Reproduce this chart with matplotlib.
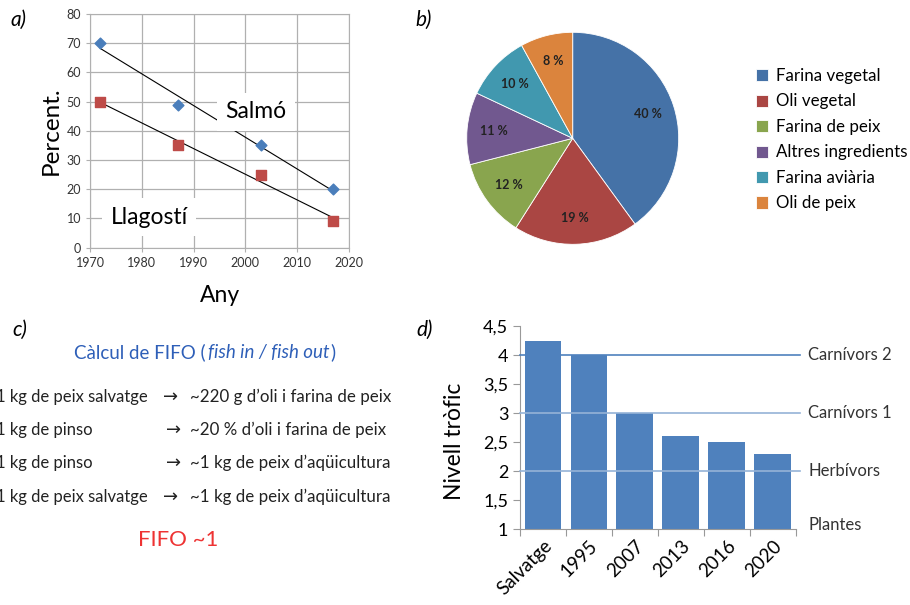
import numpy as np
import matplotlib
matplotlib.use('Agg')
import matplotlib.pyplot as plt
from matplotlib.offsetbox import TextArea, HPacker, AnnotationBbox

plt.rcParams['font.family'] = ['Lato', 'DejaVu Sans']

W, H = 910, 605

# panel a
years = [1972, 1987, 2003, 2017]
salmo = [70, 49, 35, 20]
llagosti = [50, 35, 25, 9]

# panel b
pie_labels = ['Farina vegetal', 'Oli vegetal', 'Farina de peix',
              'Altres ingredients', 'Farina aviària', 'Oli de peix']
pie_values = [40, 19, 12, 11, 10, 8]
pie_colors = ['#4572a7', '#aa4643', '#89a54e', '#71588f', '#4198af', '#db843d']

# panel c
fifo_left = ['1 kg de peix salvatge', '1 kg de pinso', '1 kg de pinso', '1 kg de peix salvatge']
fifo_right = ['~220 g d’oli i farina de peix', '~20 % d’oli i farina de peix',
              '~1 kg de peix d’aqüicultura', '~1 kg de peix d’aqüicultura']

# panel d
cats = ['Salvatge', '1995', '2007', '2013', '2016', '2020']
nivell = [4.25, 4.0, 3.0, 2.6, 2.5, 2.3]
levels = [4, 3, 2, 1]
level_names = ['Carnívors 2', 'Carnívors 1', 'Herbívors', 'Plantes']


def box(x0, y0, x1, y1):
    # pixel box (top-left origin) -> figure fraction rect
    return [x0 / W, 1 - y1 / H, (x1 - x0) / W, (y1 - y0) / H]


def fx(x, y):
    return x / W, 1 - y / H


fig = plt.figure(figsize=(W / 100, H / 100), dpi=100)

# ---- a) ----
ax = fig.add_axes(box(90, 14, 349, 247.7))
ax.scatter(years, salmo, marker='D', s=30, color='#4a7ebb', zorder=3)
ax.scatter(years, llagosti, marker='s', s=55, color='#be4b48', zorder=3)
for ys in (salmo, llagosti):
    k, b = np.polyfit(years, ys, 1)
    xx = np.array([years[0], years[-1]])
    ax.plot(xx, k * xx + b, color='black', lw=0.8, zorder=2)
ax.set_xlim(1970, 2020)
ax.set_ylim(0, 80)
ax.set_xticks(range(1970, 2021, 10))
ax.set_yticks(range(0, 81, 10))
ax.grid(True, color='#b0b0b0', lw=0.9)
ax.set_axisbelow(True)
for s in ax.spines.values():
    s.set_color('#b0b0b0')
ax.tick_params(labelsize=9, length=3, color='#b0b0b0', labelcolor='#333333')
ax.set_ylabel('Percent.', fontsize=17.5, labelpad=3)
ax.set_xlabel('Any', fontsize=16.5, labelpad=12)
ax.text(2002, 46.5, 'Salmó', fontsize=16.5, ha='center', va='center', zorder=4,
        bbox=dict(facecolor='white', edgecolor='none', pad=6))
ax.text(1981.4, 10.5, 'Llagostí', fontsize=16.5, ha='center', va='center', zorder=4,
        bbox=dict(facecolor='white', edgecolor='none', pad=6))
fig.text(*fx(10, 20), 'a)', fontsize=15, style='italic', va='center')

# ---- b) ----
axp = fig.add_axes(box(466.7, 32.3, 678.7, 244.3))
wedges, texts, autotexts = axp.pie(
    pie_values, colors=pie_colors, startangle=90, counterclock=False,
    autopct=lambda p: '%d %%' % round(p), pctdistance=0.75,
    wedgeprops=dict(edgecolor='white', linewidth=0.6),
    textprops=dict(fontsize=9, fontweight='bold', color='#222222'))
axp.set_xlim(-1, 1)
axp.set_ylim(-1, 1)
for w in wedges:
    w.set_clip_on(False)
fig.legend(wedges, pie_labels, loc='upper left', bbox_to_anchor=fx(756, 68),
           frameon=False, fontsize=12.2, handlelength=0.72, handleheight=0.72,
           handletextpad=0.45, labelspacing=0.56, borderaxespad=0, borderpad=0)
fig.text(*fx(415, 20), 'b)', fontsize=15, style='italic', va='center')

# ---- c) ----
fig.text(*fx(12, 330), 'c)', fontsize=15, style='italic', va='center')
tp = dict(fontsize=13.5, color='#2e5fb8')
title = HPacker(children=[TextArea('Càlcul de FIFO (', textprops=tp),
                          TextArea('fish in / fish out', textprops=dict(tp, style='italic')),
                          TextArea(')', textprops=tp)], pad=0, sep=1)
fig.add_artist(AnnotationBbox(title, fx(205, 352), xycoords='figure fraction',
                              frameon=False, box_alignment=(0.5, 0.5)))
rows_y = [397, 430, 463, 497]
arrow_x = [163, 166, 166, 163]
for y, l, r, axx in zip(rows_y, fifo_left, fifo_right, arrow_x):
    fig.text(*fx(-4, y), l, fontsize=12, va='center', color='#222222')
    fig.text(*fx(axx, y), '→', fontsize=13, va='center', color='#222222',
             family='DejaVu Sans')
    fig.text(*fx(190, y), r, fontsize=12.2, va='center', color='#222222')
fig.text(*fx(178, 540), 'FIFO ~1', fontsize=16, ha='center', va='center', color='#ee3333')

# ---- d) ----
axd = fig.add_axes(box(520, 326, 795.7, 529))
x = np.arange(len(cats))
axd.bar(x, nivell, width=0.8, color='#4f81bd', zorder=2)
axd.set_xlim(-0.5, len(cats) - 0.5)
axd.set_ylim(1, 4.5)
yt = np.arange(1, 4.51, 0.5)
axd.set_yticks(yt)
axd.set_yticklabels([('%g' % v).replace('.', ',') for v in yt])
axd.set_xticks(np.arange(-0.5, len(cats), 1))
axd.set_xticklabels([])
axd.set_xticks(x, minor=True)
axd.set_xticklabels(cats, minor=True, rotation=45, ha='right', rotation_mode='anchor')
axd.tick_params(axis='x', which='minor', length=0, labelsize=13.5, pad=6)
axd.tick_params(axis='x', which='major', length=5, color='#999999')
axd.tick_params(axis='y', labelsize=13, length=5, color='#999999')
for s in ['top', 'right']:
    axd.spines[s].set_visible(False)
for s in ['left', 'bottom']:
    axd.spines[s].set_color('#999999')
axd.set_ylabel('Nivell tròfic', fontsize=16.5)
axd.yaxis.set_label_coords(-0.2, 0.43)
line_cols = ['#4f81bd', '#95b3d7', '#95b3d7']
for lv, c in zip(levels[:3], line_cols):
    axd.plot([-0.5, 5.6], [lv, lv], color=c, lw=1.2, zorder=3, clip_on=False)
for lv, name in zip(levels, level_names):
    yy = lv + 0.07 if lv == 1 else lv
    axd.text(5.77, yy, name, fontsize=12, va='center', ha='left', color='#333333',
             clip_on=False)
fig.text(*fx(416, 330), 'd)', fontsize=15, style='italic', va='center')

fig.savefig('out.png', dpi=100)
